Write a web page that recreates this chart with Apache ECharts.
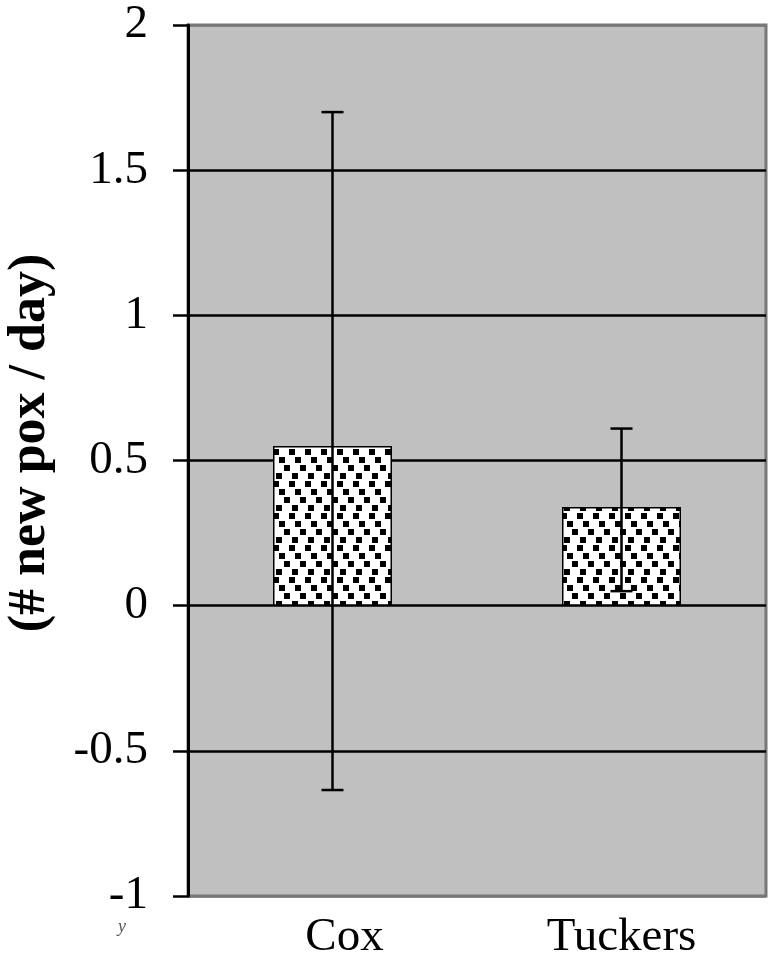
<!DOCTYPE html>
<html>
<head>
<meta charset="utf-8">
<style>html,body{margin:0;padding:0;background:#fff;}#c{width:768px;height:959px;}</style>
<script src="https://cdn.jsdelivr.net/npm/echarts@6/dist/echarts.min.js"></script>
</head>
<body>
<div id="c"></div>
<script>
var categories = ['Cox', 'Tuckers'];
var means = [0.55, 0.34];
var errHigh = [1.70, 0.61];
var errLow = [-0.635, 0.05];
var yMin = -1, yMax = 2, yInterval = 0.5;
var yTitle = '(# new pox / day)';

function makePattern() {
  var n = 32;
  var c = document.createElement('canvas');
  c.width = n; c.height = n;
  var g = c.getContext('2d');
  g.fillStyle = '#fff'; g.fillRect(0, 0, n, n);
  g.fillStyle = '#000';
  var sq = [[1,1],[17,1],[7,9],[23,9],[12,17],[28,17],[4,25],[20,25]];
  sq.forEach(function(p){ g.fillRect(p[0], p[1], 6, 6); if (p[0] + 6 > n) g.fillRect(p[0] - n, p[1], 6, 6); });
  return c;
}

var chart = echarts.init(document.getElementById('c'), null, {renderer: 'canvas'});
var serif = '"Liberation Serif", "Times New Roman", serif';
var errData = categories.map(function(c, i){ return [i, errLow[i], errHigh[i]]; });
var catData = categories.map(function(c, i){
  return i === 0 ? {value: c, textStyle: {padding: [0, 0, 0, 24]}} : c;
});

chart.setOption({
  animation: false,
  grid: {left: 188, right: 2, top: 25, bottom: 63, outerBoundsMode: 'none', containLabel: false,
         show: true, backgroundColor: '#C0C0C0', borderColor: '#777', borderWidth: 3},
  xAxis: {
    type: 'category', data: catData,
    axisLine: {show: false}, axisTick: {show: false},
    axisLabel: {fontFamily: serif, fontSize: 47, color: '#000', margin: 18}
  },
  yAxis: {
    type: 'value', min: yMin, max: yMax, interval: yInterval,
    axisLine: {show: true, lineStyle: {color: '#000', width: 3}},
    axisTick: {show: true, length: 15, lineStyle: {color: '#000', width: 2.5}},
    axisLabel: {fontFamily: serif, fontSize: 47, color: '#000', margin: 40},
    splitLine: {show: true, lineStyle: {color: ['#777', '#000', '#000', '#000', '#000', '#000', '#777'], width: 2.5}}
  },
  graphic: [
    {type: 'text', x: 31, y: 443, rotation: Math.PI / 2,
     style: {text: yTitle, font: 'bold 52px ' + serif, fill: '#000', align: 'center', verticalAlign: 'middle'}},
    {type: 'text', x: 118, y: 918,
     style: {text: 'y', font: 'italic 18px ' + serif, fill: '#555', align: 'left', verticalAlign: 'top'}}
  ],
  series: [
    {type: 'bar', data: means, barWidth: 119,
     itemStyle: {color: {image: makePattern(), repeat: 'repeat'}, borderColor: '#000', borderWidth: 1.5},
     z: 2},
    {type: 'custom', data: errData, z: 5,
     renderItem: function(params, api) {
       var x = api.value(0);
       var lo = api.coord([x, api.value(1)]);
       var hi = api.coord([x, api.value(2)]);
       var hw = 11;
       var st = {stroke: '#000', lineWidth: 2.5};
       return {type: 'group', children: [
         {type: 'line', shape: {x1: hi[0], y1: hi[1], x2: lo[0], y2: lo[1]}, style: st},
         {type: 'line', shape: {x1: hi[0] - hw, y1: hi[1], x2: hi[0] + hw, y2: hi[1]}, style: st},
         {type: 'line', shape: {x1: lo[0] - hw, y1: lo[1], x2: lo[0] + hw, y2: lo[1]}, style: st}
       ]};
     }}
  ]
});
</script>
</body>
</html>
